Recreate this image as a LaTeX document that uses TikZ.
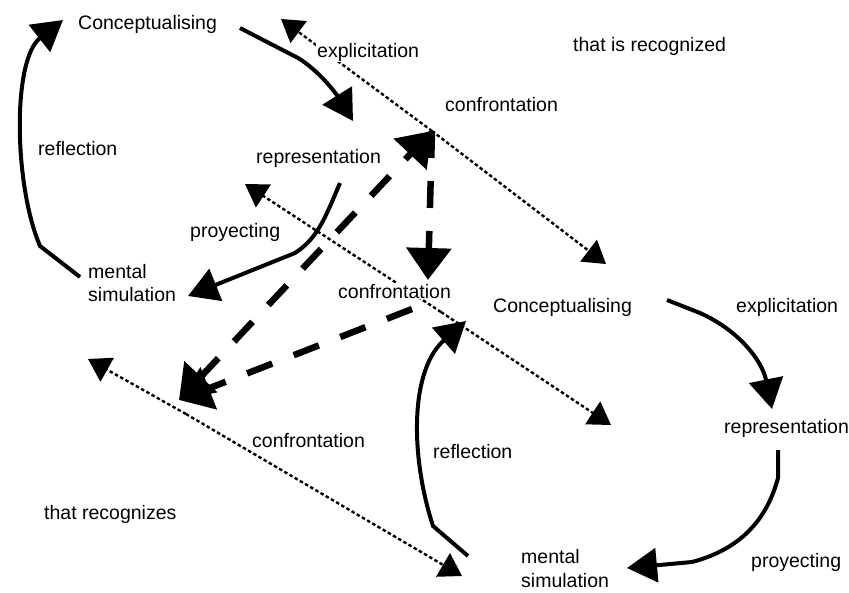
\documentclass[tikz,border=0pt]{standalone}
\usepackage{fontspec}
\setmainfont{Liberation Sans}
\usetikzlibrary{arrows.meta}
\begin{document}
\begin{tikzpicture}[x=1pt,y=-1pt,
  lbl/.style={font=\fontsize{19.5}{23}\selectfont, anchor=base west, inner sep=1pt, fill=white},
  solidarr/.style={line width=4pt, -{Triangle[length=30pt,width=34pt]}},
  dashbase/.style={line width=6.5pt, dash pattern=on 27pt off 23pt},
  dasharr/.style={dashbase, -{Triangle[length=32pt,width=44pt]}},
  dasharrboth/.style={dashbase, {Triangle[length=32pt,width=44pt]}-{Triangle[length=32pt,width=44pt]}},
  dotarr/.style={line width=2.4pt, dash pattern=on 3.5pt off 2.5pt, -{Triangle[length=22pt,width=27pt]}},
]
\useasboundingbox (0,0) rectangle (849,592);

% meeting points of the confrontation links
\coordinate (hubA) at (432,131);
\coordinate (hubB) at (441,312);
\coordinate (hubC) at (179,400);
\coordinate (dotC) at (186,414);
\coordinate (vertEnd) at (428,280);
\coordinate (dashStart) at (412,309);

% free ends of the dotted links
\coordinate (tipA1) at (281,19);
\coordinate (tipA2) at (606,264);
\coordinate (tipB1) at (245,184);
\coordinate (tipB2) at (611,425);
\coordinate (tipC1) at (88,359);
\coordinate (tipC2) at (462,576);

% ends of the solid cycle arrows
\coordinate (lcS) at (240,28);   \coordinate (lrE) at (353,121);
\coordinate (lmS) at (80,277);   \coordinate (lcE) at (63,20);
\coordinate (lrS) at (340,183);  \coordinate (lmE) at (188,296);
\coordinate (rmS) at (468,556);  \coordinate (rcE) at (466,321);
\coordinate (rcS) at (667,300);  \coordinate (rrE) at (772,409);
\coordinate (rrS) at (778,450);  \coordinate (rmE) at (627,568);

% left cycle
\draw[solidarr] (lcS) -- (298,58) .. controls (318,70) and (335,92) .. (lrE);
\draw[solidarr] (lmS) -- (40,246) .. controls (14,185) and (12,60) .. (lcE);
\draw[solidarr] (lrS) .. controls (325,218) and (318,238) .. (295,253) -- (lmE);

% right cycle
\draw[solidarr] (rmS) -- (433,526) .. controls (410,455) and (410,370) .. (rcE);
\draw[solidarr] (rcS) -- (700,313) .. controls (738,330) and (762,360) .. (rrE);
\draw[solidarr] (rrS) -- (778,478) .. controls (768,515) and (745,548) .. (692,562) -- (rmE);

% dotted links
\draw[dotarr] (hubA) -- (tipA1);
\draw[dotarr] (hubA) -- (tipA2);
\draw[dotarr] (hubB) -- (tipB1);
\draw[dotarr] (hubB) -- (tipB2);
\draw[dotarr] (dotC) -- (tipC1);
\draw[dotarr] (dotC) -- (tipC2);

% dashed confrontation arrows
\draw[dasharr] (hubA) -- (vertEnd);
\draw[dasharrboth] (hubC) -- (hubA);
\draw[dasharr] (dashStart) -- (hubC);

% labels
\node[lbl] (conceptL) at (77,29) {Conceptualising};
\node[lbl] (explL) at (316,57) {explicitation};
\node[lbl] (isrec) at (572,51) {that is recognized};
\node[lbl] (confTop) at (444,111) {confrontation};
\node[lbl] (reflL) at (37,155) {reflection};
\node[lbl] (reprL) at (255,163) {representation};
\node[lbl] (proyL) at (189,237) {proyecting};
\node[lbl] (mentL) at (87,278) {mental};
\node[lbl] (simL) at (87,301) {simulation};
\node[lbl] (confMid) at (337,298) {confrontation};
\node[lbl] (conceptR) at (492,312) {Conceptualising};
\node[lbl] (explR) at (735,312) {explicitation};
\node[lbl] (reflR) at (432,458) {reflection};
\node[lbl] (reprR) at (723,433) {representation};
\node[lbl] (confBot) at (251,447) {confrontation};
\node[lbl] (recog) at (43,519) {that recognizes};
\node[lbl] (mentR) at (520,563) {mental};
\node[lbl] (simR) at (520,587) {simulation};
\node[lbl] (proyR) at (750,567) {proyecting};
\end{tikzpicture}
\end{document}
